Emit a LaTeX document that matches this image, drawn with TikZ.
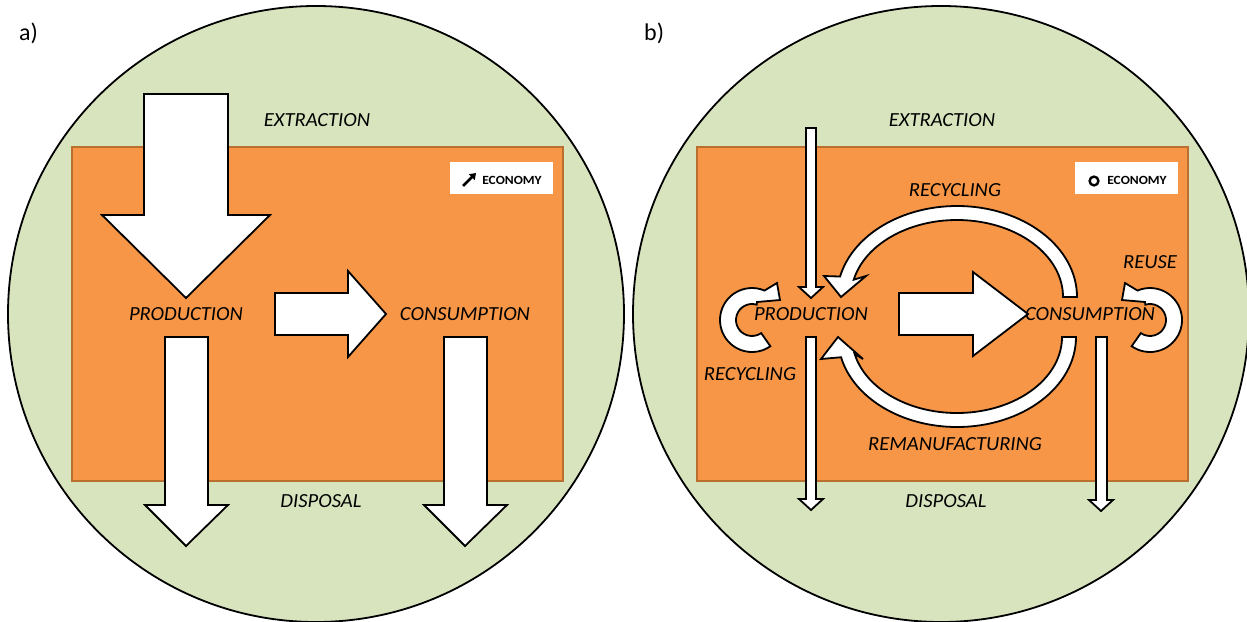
\documentclass[tikz,border=0pt]{standalone}
\usepackage{fontspec}
\setmainfont{Carlito}
\newfontfamily\lblfont[FakeStretch=1.03]{Carlito}
\newfontfamily\ecofont[FakeStretch=1.08]{Carlito}
\usetikzlibrary{arrows.meta,calc}
\definecolor{envgreen}{HTML}{D7E4BD}
\definecolor{econorange}{HTML}{F79646}
\definecolor{econborder}{HTML}{B86F30}
\tikzset{
  env/.style={draw=black, line width=1.8pt, fill=envgreen},
  econ/.style={draw=econborder, line width=1.5pt, fill=econorange},
  flow/.style={draw=black, line width=1.8pt, fill=white, line join=miter},
  lbl/.style={font=\lblfont\itshape\fontsize{20}{22}\selectfont, inner sep=0pt},
  panel/.style={font=\fontsize{24}{26}\selectfont, inner sep=0pt, anchor=west},
  ecobox/.style={fill=white, draw=none},
  ecotext/.style={font=\ecofont\bfseries\fontsize{12.5}{13}\selectfont, inner sep=0pt}
}
\begin{document}
\begin{tikzpicture}[x=1pt,y=-1pt]
\useasboundingbox (0,0) rectangle (1247,621);
\fill[white] (0,0) rectangle (1247,621);
% ---------- panel a ----------
\draw[env] (316,314) circle[radius=308];
\draw[econ] (72,147) rectangle (563,481);
\fill[ecobox] (450,162) rectangle (553,194);
\draw[line width=2.6pt,-{Triangle[length=6pt,width=8pt]}] (463,186) -- (476,173);
\node[ecotext] (ecoA) at (512,180) {ECONOMY};
% big extraction arrow
\draw[flow] (144,94) -- (228,94) -- (228,215) -- (270,215) -- (186,298) -- (102,215) -- (144,215) -- cycle;
% production -> consumption
\draw[flow] (275,293) -- (348,293) -- (348,271) -- (386,314) -- (348,357) -- (348,335) -- (275,335) -- cycle;
% disposal arrows
\draw[flow] (165,337) -- (208,337) -- (208,505) -- (228,505) -- (186,546) -- (145,505) -- (165,505) -- cycle;
\draw[flow] (444,337) -- (487,337) -- (487,505) -- (507,505) -- (465,546) -- (424,505) -- (444,505) -- cycle;
\node[panel] (pa) at (19,33) {a)};
\node[lbl] (extA) at (317,120) {EXTRACTION};
\node[lbl] (prodA) at (186,314) {PRODUCTION};
\node[lbl] (consA) at (465,314) {CONSUMPTION};
\node[lbl] (dispA) at (321,501) {DISPOSAL};
% ---------- panel b ----------
\draw[env] (941,314) circle[radius=308];
\draw[econ] (697,147) rectangle (1188,481);
\fill[ecobox] (1075,162) rectangle (1178,194);
\draw[line width=2.4pt] (1094,181) circle[radius=4.4];
\node[ecotext] (ecoB) at (1137,180) {ECONOMY};
% thin extraction arrow
\draw[flow] (806,128) -- (816,128) -- (816,287) -- (823,287) -- (811,298) -- (799,287) -- (806,287) -- cycle;
% thin disposal arrows
\draw[flow] (806,337) -- (816,337) -- (816,499) -- (823,499) -- (811,510) -- (799,499) -- (806,499) -- cycle;
\draw[flow] (1096,337) -- (1107,337) -- (1107,500) -- (1113,500) -- (1101,511) -- (1089,500) -- (1096,500) -- cycle;
% central arrow
\draw[flow] (899,293) -- (973,293) -- (973,272) -- (1028,314) -- (973,356) -- (973,335) -- (899,335) -- cycle;
% recycling arc (top)
\draw[flow] (1063,297) -- (1077,297) arc[start angle=0, end angle=-167, x radius=120, y radius=91]
  -- (824,276) -- (841,297) -- (866,276)
  -- ($(957,297)+(-167:106 and 77)$) arc[start angle=-167, end angle=0, x radius=106, y radius=77] -- cycle;
% remanufacturing arc (bottom)
\draw[flow] (1062,337) -- (1076,337) arc[start angle=0, end angle=167, x radius=119, y radius=90]
  -- (821,359) -- (838,337) -- (863,359)
  -- ($(957,337)+(167:105 and 76)$) arc[start angle=167, end angle=0, x radius=105, y radius=76] -- cycle;
% small circular arrows
\draw[flow] ($(752,320)+(55:32)$) arc[start angle=55, end angle=293, radius=32]
  -- (777,283) -- (780,300) -- (757,302)
  -- ($(752,320)+(287:16)$) arc[start angle=287, end angle=55, radius=16] -- cycle;
\begin{scope}[xshift=1902pt, xscale=-1]
\draw[flow] ($(752,320)+(55:32)$) arc[start angle=55, end angle=293, radius=32]
  -- (777,283) -- (780,300) -- (757,302)
  -- ($(752,320)+(287:16)$) arc[start angle=287, end angle=55, radius=16] -- cycle;
\end{scope}
\node[panel] (pb) at (644,33) {b)};
\node[lbl] (extB) at (942,120) {EXTRACTION};
\node[lbl] (prodB) at (811,314) {PRODUCTION};
\node[lbl] (consB) at (1090,314) {CONSUMPTION};
\node[lbl] (dispB) at (946,501) {DISPOSAL};
\node[lbl] (recT) at (955,190) {RECYCLING};
\node[lbl] (reuse) at (1150,262) {REUSE};
\node[lbl] (recL) at (750,374) {RECYCLING};
\node[lbl] (reman) at (955,444) {REMANUFACTURING};
\end{tikzpicture}
\end{document}
